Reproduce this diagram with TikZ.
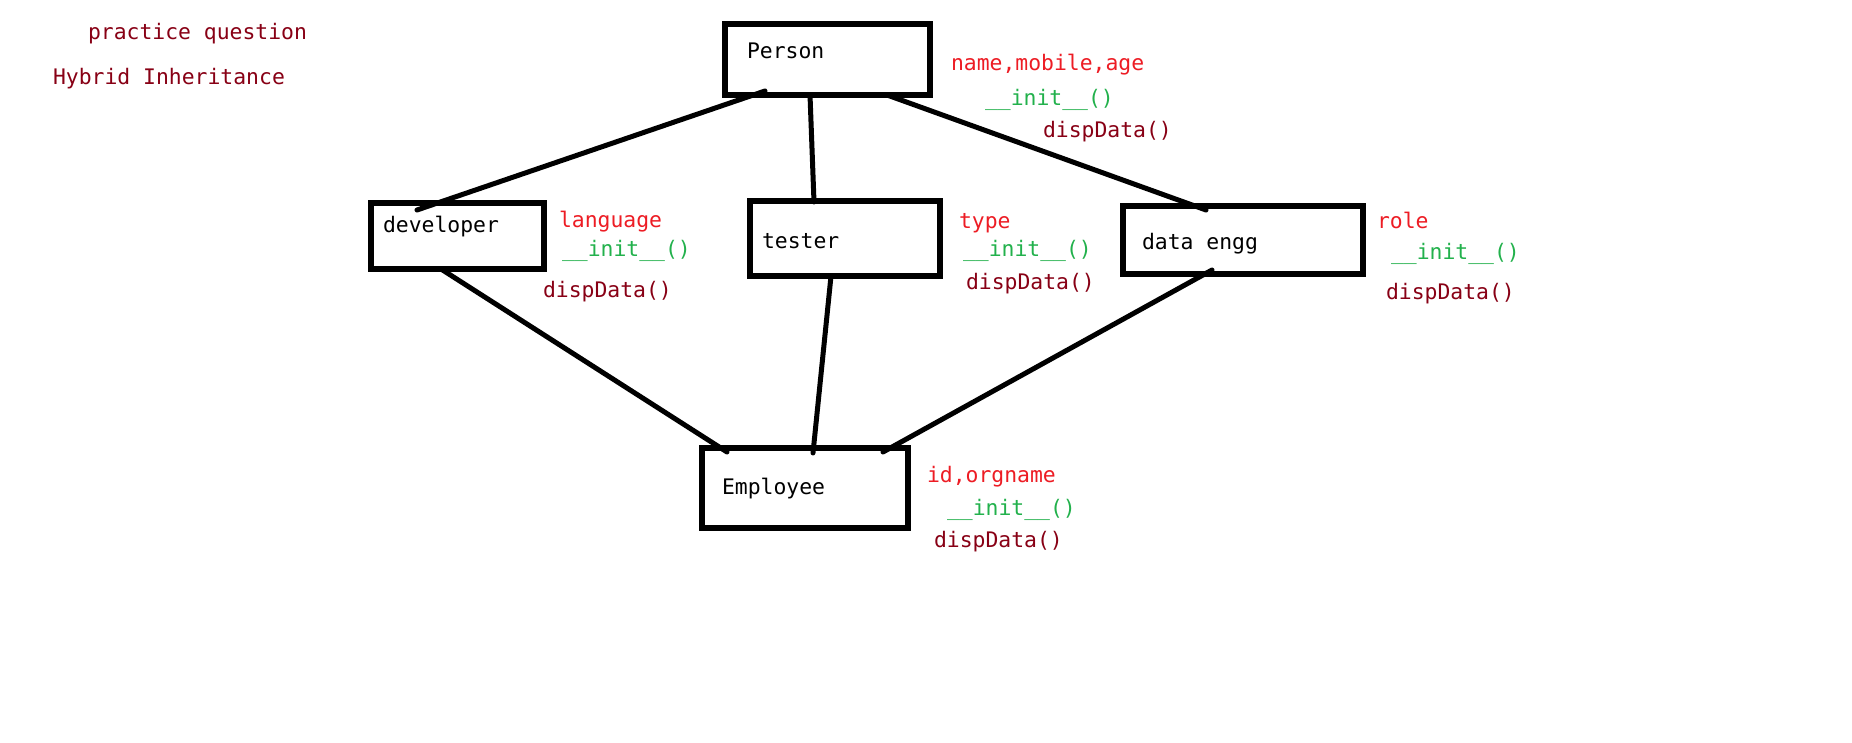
\documentclass[tikz,border=0pt]{standalone}
\usepackage{fontspec}
\setmonofont{DejaVu Sans Mono}
\begin{document}
\begin{tikzpicture}[x=1pt,y=-1pt,
  cls/.style={draw=black,line width=5.4pt,rectangle,inner sep=0pt,outer sep=0pt,anchor=north west},
  txt/.style={anchor=base west,inner sep=0pt,outer sep=0pt,font=\fontsize{21.4}{24}\selectfont\ttfamily},
  clsname/.style={txt,text=black},
  attr/.style={txt,text=pred},
  meth/.style={txt,text=pgreen},
  disp/.style={txt,text=pdark},
  link/.style={line width=5pt,line cap=round,draw=black}]
\definecolor{pred}{HTML}{ED1C24}
\definecolor{pgreen}{HTML}{22B14C}
\definecolor{pdark}{HTML}{880015}
\useasboundingbox[fill=white] (0,0) rectangle (1852,743);

% titles
\node[disp] (t1) at (88,40) {practice question};
\node[disp] (t2) at (53,85) {Hybrid Inheritance};

% class boxes
\node[cls,minimum width=205pt,minimum height=71pt] (person) at (725,24) {};
\node[cls,minimum width=173pt,minimum height=66pt] (developer) at (371,203) {};
\node[cls,minimum width=190pt,minimum height=75pt] (tester) at (750,201) {};
\node[cls,minimum width=240pt,minimum height=68pt] (dataengg) at (1123,206) {};
\node[cls,minimum width=206pt,minimum height=80pt] (employee) at (702,448) {};

% class names
\node[clsname] (personT) at (747,59) {Person};
\node[clsname] (developerT) at (383,233) {developer};
\node[clsname] (testerT) at (762,249) {tester};
\node[clsname] (dataenggT) at (1142,250) {data engg};
\node[clsname] (employeeT) at (722,494) {Employee};

% members
\node[attr] (pA) at (951,71) {name,mobile,age};
\node[meth] (pI) at (985,106) {\_\_init\_\_()};
\node[disp] (pD) at (1043,138) {dispData()};

\node[attr] (dA) at (559,228) {language};
\node[meth] (dI) at (562,257) {\_\_init\_\_()};
\node[disp] (dD) at (543,298) {dispData()};

\node[attr] (tA) at (959,229) {type};
\node[meth] (tI) at (963,257) {\_\_init\_\_()};
\node[disp] (tD) at (966,290) {dispData()};

\node[attr] (eA) at (1377,229) {role};
\node[meth] (eI) at (1391,260) {\_\_init\_\_()};
\node[disp] (eD) at (1386,299) {dispData()};

\node[attr] (mA) at (927,482) {id,orgname};
\node[meth] (mI) at (947,515) {\_\_init\_\_()};
\node[disp] (mD) at (934,547) {dispData()};

% connectors
\draw[link] ([xshift=40pt,yshift=4pt]person.south west) -- ([xshift=46pt,yshift=-7pt]developer.north west);
\draw[link] ([xshift=85pt]person.south west) -- ([xshift=64pt,yshift=-1pt]tester.north west);
\draw[link] ([xshift=162pt]person.south west) -- ([xshift=83pt,yshift=-4pt]dataengg.north west);
\draw[link] ([xshift=70pt]developer.south west) -- ([xshift=25pt,yshift=-4pt]employee.north west);
\draw[link] ([xshift=81pt]tester.south west) -- ([xshift=111pt,yshift=-5pt]employee.north west);
\draw[link] ([xshift=89pt,yshift=4pt]dataengg.south west) -- ([xshift=181pt,yshift=-4pt]employee.north west);
\end{tikzpicture}
\end{document}
